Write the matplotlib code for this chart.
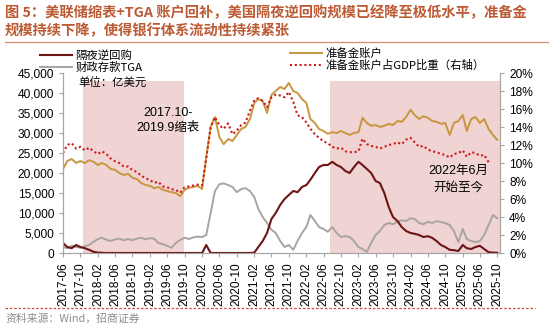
import matplotlib
matplotlib.use("Agg")
import matplotlib.pyplot as plt
import matplotlib.dates as mdates
from matplotlib.lines import Line2D
from matplotlib.ticker import FuncFormatter, MultipleLocator
import pandas as pd

CJK = ["Noto Sans CJK SC", "DejaVu Sans"]
LAT = ["Liberation Sans", "Noto Sans CJK SC"]
plt.rcParams["font.family"] = CJK

# ── data (monthly, 2017-06 onward; 亿美元 / %) ────────────────────────────────
start = "2017-06-01"

reserves = [21000, 23000, 23500, 22500, 23000, 22500, 23200, 22800, 22000, 22500,
            22000, 21000, 20800, 20000, 19500, 19800, 18800, 18500, 17500, 17000,
            16800, 16200, 16500, 15800, 15500, 15200, 15000, 14200, 15800, 16300,
            16500, 16800, 16000, 24000, 31500, 34000, 29000, 27200, 28500, 28000,
            29500, 31000, 31500, 33500, 37500, 38500, 38000, 35000, 39500, 40500,
            41500, 41000, 42500, 40500, 40000, 38500, 37500, 33500, 32500, 31000,
            30500, 29800, 30200, 30000, 30500, 30000, 29500, 30000, 30200, 33800,
            32500, 31800, 32000, 31500, 31800, 32300, 32000, 33000, 32800, 34000,
            35800, 34500, 33500, 34200, 33800, 33000, 32800, 32300, 32500, 29500,
            32500, 33000, 34500, 30500, 33500, 34000, 32500, 33500, 31000, 29500,
            28300]

tga = [1500, 1200, 1800, 1500, 1300, 1700, 2000, 2800, 3500, 3800,
       3300, 3000, 3400, 3600, 3200, 3500, 3200, 3600, 3800, 3400,
       3700, 3600, 2500, 2200, 1800, 1300, 2500, 3300, 3800, 3500,
       3900, 4100, 4000, 4500, 10000, 15500, 17200, 17400, 17000, 16500,
       15200, 16000, 16200, 15500, 14000, 11000, 9000, 7500, 5800, 5000,
       3000, 1500, 2000, 800, 3000, 5000, 6500, 9500, 8000, 6500,
       6000, 5300, 6500, 5000, 4000, 4200, 4000, 3000, 1500, 1000,
       300, 2500, 4500, 5500, 7000, 7500, 7200, 7800, 8200, 8000,
       8700, 8500, 7500, 7200, 7800, 7500, 8000, 7700, 7500, 7000,
       5500, 2700, 6000, 3500, 3000, 2700, 3000, 4500, 7000, 9500,
       8700]

onrrp = [2500, 1500, 1200, 2000, 1500, 1200, 800, 300, 100, 50,
         0, 0, 0, 0, 0, 0, 0, 0, 0, 0,
         0, 0, 0, 0, 0, 0, 0, 0, 0, 0,
         0, 0, 0, 2000, 0, 0, 0, 0, 0, 0,
         0, 0, 0, 0, 100, 1500, 3000, 5000, 8500, 10000,
         12000, 13500, 14500, 15500, 15200, 16500, 17000, 18300, 20000, 21500,
         22000, 22000, 22800, 22000, 21500, 20500, 20000, 21500, 22800, 22000,
         21000, 20000, 18000, 17500, 15000, 11500, 9000, 8000, 6500, 5500,
         5000, 4800, 4500, 4000, 4200, 3800, 3000, 2000, 1500, 800,
         700, 500, 2000, 1200, 1000, 1500, 1800, 1000, 200, 100,
         50]

gdp_ratio = [11.1, 12.0, 12.2, 11.6, 11.8, 11.4, 11.7, 11.3, 11.0, 11.3,
             11.0, 10.5, 10.2, 10.0, 9.6, 9.6, 9.2, 9.0, 8.6, 8.3,
             8.1, 7.8, 7.9, 7.4, 7.3, 7.1, 7.0, 6.7, 7.3, 7.4,
             7.5, 7.6, 7.5, 10.5, 14.0, 15.1, 14.2, 13.8, 14.4, 13.2,
             13.6, 14.2, 14.5, 15.8, 17.0, 17.2, 16.9, 16.2, 17.3, 17.6,
             17.5, 17.3, 17.9, 16.8, 15.3, 15.1, 14.5, 13.8, 13.2, 12.8,
             12.4, 12.2, 11.8, 11.6, 11.7, 11.3, 11.2, 11.2, 11.3, 12.7,
             12.1, 11.9, 11.8, 11.6, 11.8, 12.0, 12.1, 12.3, 12.1, 12.6,
             12.8, 12.3, 11.8, 11.9, 11.5, 11.3, 11.2, 11.0, 10.9, 10.6,
             11.0, 11.1, 11.4, 10.7, 11.2, 11.1, 10.8, 10.9, 10.1]

months = pd.date_range(start, periods=len(reserves), freq="MS")
tick_dates = pd.date_range(start, "2025-10-01", freq="4MS")
qt_periods = [("2017-10-18", "2019-09-28"), ("2022-07-15", "2025-10-31")]

# ── figure ────────────────────────────────────────────────────────────────────
fig = plt.figure(figsize=(5.5, 3.29), dpi=100)
ax = fig.add_axes([63 / 550, 76 / 329, 437 / 550, 180 / 329])
ax2 = ax.twinx()

for a, b in qt_periods:
    ax.axvspan(pd.Timestamp(a), pd.Timestamp(b), ymin=0, ymax=43000 / 45000,
               color="#F0D3D3", lw=0, zorder=0)

ax.plot(months, tga, color="#A8A4A4", lw=1.4, zorder=2, label="财政存款TGA")
ax.plot(months, reserves, color="#C8963E", lw=1.4, zorder=3, label="准备金账户")
ax.plot(months, onrrp, color="#6E1414", lw=1.5, zorder=4, label="隔夜逆回购")
ax2.plot(months[:len(gdp_ratio)], gdp_ratio, color="#D01818", lw=1.5,
         ls=(0, (1, 1.3)), label="准备金账户占GDP比重（右轴）")

ax.set_ylim(0, 45000)
ax.yaxis.set_major_locator(MultipleLocator(5000))
ax.yaxis.set_major_formatter(FuncFormatter(lambda v, p: f"{int(v):,}"))
ax2.set_ylim(0, 20)
ax2.yaxis.set_major_locator(MultipleLocator(2))
ax2.yaxis.set_major_formatter(FuncFormatter(lambda v, p: f"{int(v)}%"))

ax.set_xlim(pd.Timestamp(start), pd.Timestamp("2025-10-20"))
ax.set_xticks(tick_dates)
ax.xaxis.set_major_formatter(mdates.DateFormatter("%Y-%m"))

for a in (ax, ax2):
    a.spines["top"].set_visible(False)
    for s in ("left", "right", "bottom"):
        a.spines[s].set_color("#A6A6A6")
    a.tick_params(colors="#A6A6A6", labelcolor="black", length=3, width=0.8)
for lab in ax.get_xticklabels():
    lab.set_rotation(90)
for lab in ax.get_xticklabels() + ax.get_yticklabels() + ax2.get_yticklabels():
    lab.set_fontfamily(LAT)
    lab.set_fontsize(8.6)

# legends
h1 = [Line2D([], [], color="#6E1414", lw=1.5), Line2D([], [], color="#A8A4A4", lw=1.4)]
h2 = [Line2D([], [], color="#C8963E", lw=1.4),
      Line2D([], [], color="#D01818", lw=1.5, ls=(0, (1, 1.3)))]
lg_kw = dict(frameon=False, fontsize=8.2, handlelength=2.8, handletextpad=0.3,
             labelspacing=0.05, borderaxespad=0, borderpad=0, loc="upper left")
fig.legend(h1, ["隔夜逆回购", "财政存款TGA"],
           bbox_to_anchor=(40 / 550, 1 - 50 / 329), **lg_kw)
fig.legend(h2, ["准备金账户", "准备金账户占GDP比重（右轴）"],
           bbox_to_anchor=(290 / 550, 1 - 48 / 329), **lg_kw)

# annotations
fig.text(78 / 550, 1 - 83 / 329, "单位：亿美元", fontsize=8.2, va="center")
fig.text(193 / 550, 1 - 113 / 329, "2017.10-", fontsize=9, ha="right",
         va="center", family=LAT)
fig.text(200 / 550, 1 - 128 / 329, "2019.9缩表", fontsize=9, ha="right",
         va="center", family=LAT)
fig.text(458 / 550, 1 - 171 / 329, "2022年6月", fontsize=9, ha="center",
         va="center", family=LAT)
fig.text(458 / 550, 1 - 187 / 329, "开始至今", fontsize=9, ha="center",
         va="center")

# title, rules, source
title_color = "#BC5A34"
fig.text(5 / 550, 1 - 13 / 329,
         "图 5：美联储缩表+TGA 账户回补，美国隔夜逆回购规模已经降至极低水平，准备金",
         fontsize=10.3, fontweight="bold", color=title_color, va="center")
fig.text(5 / 550, 1 - 31 / 329, "规模持续下降，使得银行体系流动性持续紧张",
         fontsize=10.3, fontweight="bold", color=title_color, va="center")
fig.add_artist(Line2D([5 / 550, 548 / 550], [1 - 42 / 329, 1 - 42 / 329],
                      color="#D98A70", lw=0.9))
fig.add_artist(Line2D([5 / 550, 535 / 550], [1 - 308 / 329, 1 - 308 / 329],
                      color="#D24A3A", lw=0.9, ls=(0, (2, 1.5))))
fig.text(5 / 550, 1 - 319 / 329, "资料来源：Wind，招商证券", fontsize=7.8,
         color="#8C8C8C", va="center")

fig.savefig("out.png", dpi=100)
